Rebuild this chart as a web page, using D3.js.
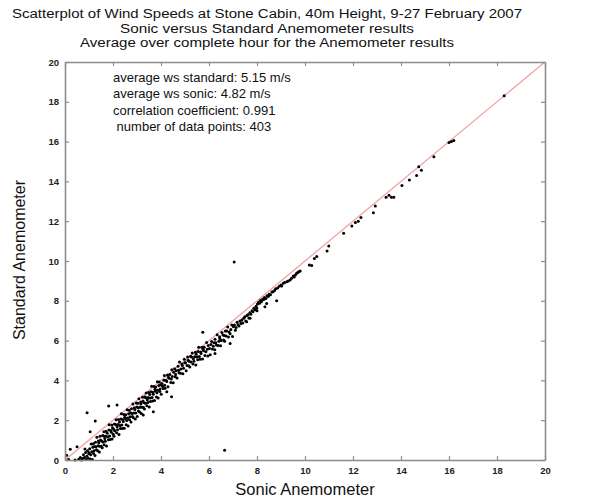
<!DOCTYPE html>
<html><head><meta charset="utf-8">
<script src="https://cdn.jsdelivr.net/npm/d3@7"></script>
<style>
body{margin:0;background:#fff;}
svg{display:block;font-family:"Liberation Sans",Arial,sans-serif;}
</style></head>
<body><svg id="c" width="598" height="500"></svg>
<script>
const titleLines = [
  "Scatterplot of Wind Speeds at Stone Cabin, 40m Height, 9-27 February 2007",
  "Sonic versus Standard Anemometer results",
  "Average over complete hour for the Anemometer results"
];
const titleWidths = [510, 294, 374];
const statLines = [
  "average ws standard: 5.15 m/s",
  "average ws sonic: 4.82 m/s",
  "correlation coefficient: 0.991",
  " number of data points: 403"
];
const xLabel = "Sonic Anemometer";
const yLabel = "Standard Anemometer";
const tickValues = [0,2,4,6,8,10,12,14,16,18,20];
const refLine = [[0,0],[20,20]];

// [sonic, standard] pairs
const band0to2 = [
 [0.07,0.24],[0.15,0.02],[0.22,0.54],[0.5,0.67],[0.42,0.0],[0.57,0.04],[0.64,0.12],[0.69,0.0],[0.74,0.07],[0.77,0.27],
 [0.81,0.13],[0.86,0.38],[0.88,0.02],[0.91,0.19],[0.94,0.47],[0.96,0.09],[0.99,0.31],[0.83,0.55],
 [1.01,0.36],[1.03,0.56],[1.05,0.05],[1.07,0.26],[1.09,0.81],[1.12,0.41],[1.14,0.02],[1.16,0.64],[1.18,0.82],[1.19,0.33],
 [1.21,0.47],[1.23,0.68],[1.25,0.22],[1.27,0.89],[1.29,0.66],[1.31,0.51],[1.33,1.14],[1.36,0.46],[1.38,0.71],[1.39,0.96],
 [1.41,0.87],[1.43,0.40],[1.44,0.69],[1.46,1.19],[1.48,1.00],[1.51,0.69],[1.53,0.96],[1.55,0.61],[1.57,1.23],[1.58,0.90],
 [1.61,1.20],[1.62,1.42],[1.63,0.77],[1.66,1.08],[1.68,0.94],[1.69,1.19],[1.71,1.44],[1.73,0.70],[1.76,1.34],[1.78,1.17],
 [1.81,1.02],[1.83,1.51],[1.84,1.77],[1.86,1.20],[1.88,1.03],[1.91,1.48],[1.93,1.40],[1.95,1.76],[1.96,1.05],[1.98,1.62],
 [0.92,2.38],[1.26,1.96],[1.05,1.42],[1.82,2.71]
];
const band2to4 = [
 [2.01,1.29],[2.03,1.55],[2.04,1.19],[2.06,1.81],[2.07,1.47],[2.11,1.79],[2.13,2.02],[2.15,1.37],[2.17,1.67],[2.19,1.52],
 [2.21,1.78],[2.23,2.03],[2.25,1.28],[2.27,1.91],[2.29,1.73],[2.31,1.58],[2.33,2.06],[2.35,2.33],[2.37,1.76],[2.39,1.58],
 [2.41,2.02],[2.43,1.93],[2.45,2.29],[2.47,1.59],[2.49,2.15],[2.51,2.09],[2.53,2.28],[2.55,1.77],[2.57,1.98],[2.59,2.52],
 [2.61,2.11],[2.63,1.71],[2.65,2.33],[2.67,2.50],[2.69,2.02],[2.71,2.17],[2.73,2.37],[2.75,1.91],[2.77,2.58],[2.79,2.34],
 [2.81,2.19],[2.83,2.81],[2.85,2.12],[2.87,2.36],[2.89,2.62],[2.91,2.54],[2.93,2.06],[2.95,2.36],[2.97,2.86],[2.99,2.66],
 [2.17,2.76],
 [3.01,2.18],[3.03,2.85],[3.05,2.62],[3.06,2.46],[3.08,3.08],[3.11,2.41],[3.13,2.65],[3.15,2.91],[3.16,2.81],[3.18,2.34],
 [3.21,2.65],[3.23,3.15],[3.25,2.96],[3.27,2.64],[3.28,2.89],[3.31,2.56],[3.33,3.18],[3.35,2.85],[3.36,3.13],[3.38,3.37],
 [3.41,2.73],[3.43,3.03],[3.45,2.89],[3.46,3.14],[3.48,3.39],[3.51,2.66],[3.53,3.29],[3.55,3.11],[3.56,2.94],[3.58,3.43],
 [3.61,3.71],[3.63,3.14],[3.65,2.97],[3.66,3.40],[3.68,3.31],[3.71,3.69],[3.73,2.99],[3.75,3.55],[3.76,3.47],[3.78,3.67],
 [3.81,3.17],[3.83,3.38],[3.85,3.93],[3.86,3.51],[3.88,3.11],[3.91,3.75],[3.93,3.92],[3.95,3.44],[3.96,3.57],[3.98,3.78],
 [3.26,2.26],[3.68,2.43]
];
const band4to6 = [
 [4.01,3.30],[4.04,3.85],[4.06,3.71],[4.09,3.59],[4.12,4.01],[4.14,4.24],[4.15,3.76],[4.17,3.61],[4.21,4.01],[4.24,3.94],
 [4.27,4.27],[4.29,3.68],[4.31,4.16],[4.34,4.11],[4.37,4.30],[4.41,3.89],[4.43,4.07],[4.45,4.54],[4.47,4.19],[4.51,3.88],
 [4.53,4.41],[4.57,4.59],[4.59,4.18],[4.61,4.30],[4.63,4.48],[4.67,4.12],[4.71,4.71],[4.73,4.51],[4.75,4.39],[4.77,4.92],
 [4.81,4.36],[4.83,4.57],[4.87,4.82],[4.89,4.75],[4.91,4.34],[4.94,4.61],[4.97,5.06],[4.99,4.89],
 [4.24,3.43],[4.44,3.18],
 [5.02,4.89],[5.05,4.48],[5.08,4.75],[5.11,5.18],[5.13,5.01],[5.15,4.74],[5.17,4.96],[5.2,4.67],[5.23,5.21],[5.25,4.92],
 [5.27,5.17],[5.3,5.38],[5.33,4.83],[5.35,5.09],[5.37,4.96],[5.4,5.19],[5.43,5.42],[5.45,4.77],[5.47,5.31],[5.5,5.17],
 [5.53,5.04],[5.55,5.45],[5.57,5.67],[5.6,5.20],[5.63,5.06],[5.65,5.43],[5.67,5.35],[5.7,5.67],[5.73,5.08],[5.75,5.56],
 [5.77,5.49],[5.8,5.67],[5.83,5.25],[5.87,5.44],[5.9,5.91],[5.93,5.56],[5.95,5.23],[5.97,5.75],
 [5.74,6.42]
];
const band6to9 = [
 [6.02,5.60],[6.05,5.29],[6.08,5.80],[6.11,5.95],[6.14,5.58],[6.18,5.72],[6.21,5.89],[6.24,5.54],[6.25,6.07],[6.28,5.89],
 [6.31,5.78],[6.34,6.29],[6.38,5.76],[6.41,5.97],[6.44,6.19],[6.45,6.11],[6.48,5.74],[6.51,6.00],[6.54,6.41],[6.58,6.28],
 [6.61,6.03],[6.64,6.26],[6.65,5.97],[6.68,6.48],[6.71,6.23],[6.74,6.48],[6.78,6.68],[6.81,6.18],[6.84,6.43],[6.88,6.34],
 [6.91,6.56],[6.95,6.78],[6.98,6.20],[6.88,5.86],[6.25,5.35],
 [7.02,6.70],[7.06,6.78],[7.1,6.52],[7.13,6.66],[7.17,6.92],[7.21,6.80],[7.25,6.73],[7.29,6.98],[7.33,6.86],[7.37,7.04],
 [7.41,6.88],[7.45,7.12],[7.49,7.20],[7.53,6.99],[7.58,7.26],[7.62,7.30],[7.66,7.13],[7.7,7.40],[7.74,7.32],[7.79,7.50],
 [7.83,7.45],[7.87,7.62],[7.92,7.55],[7.96,7.72],[7.57,6.95],[7.71,7.12],[7.99,7.62],
 [8.02,7.84],[8.06,7.91],[8.11,7.88],[8.14,8.01],[8.19,7.97],[8.23,8.08],[8.28,8.06],[8.31,8.17],[8.37,8.12],[8.42,8.26],
 [8.47,8.22],[8.51,8.33],[8.56,8.31],[8.62,8.44],[8.67,8.45],[8.73,8.52],[8.78,8.60],[8.86,8.64],[8.93,8.73],
 [8.33,7.7],[8.4,7.87],[8.82,8.0],[8.0,7.5]
];
const band9up = [
 [9.0,8.8],[9.03,8.74],[9.1,8.88],[9.15,8.92],[9.24,8.96],[9.3,9.0],[9.38,9.05],[9.44,9.13],[9.51,9.25],[9.55,9.2],
 [9.6,9.3],[9.65,9.38],[9.7,9.42],[9.74,9.46],[9.8,9.5],
 [10.18,9.8],[10.28,9.77],[10.39,10.12],[10.49,10.22],[10.92,10.5],[10.99,10.75],[11.61,11.39],[11.95,11.76],
 [12.1,11.93],[12.22,12.0],[12.33,12.18],[12.85,12.43],[12.93,12.76],[13.38,13.2],[13.5,13.3],[13.6,13.2],[13.7,13.2],
 [14.04,13.79],[14.35,14.07],[14.65,14.3],[14.74,14.74],[14.85,14.56],[15.37,15.24],[16.0,15.95],[16.1,16.0],[16.2,16.05],
 [18.3,18.3]
];
const outliers = [[6.65,0.49],[7.05,9.95]];

const points = [].concat(band0to2, band2to4, band4to6, band6to9, band9up, outliers);

const svg = d3.select("#c");
const x = d3.scaleLinear().domain([0,20]).range([65,545]);
const y = d3.scaleLinear().domain([0,20]).range([460,62]);
const axisColor = "#8c8c8c";

// titles
svg.append("g").selectAll("text").data(titleLines).join("text")
  .attr("x", 267).attr("y", (d,i)=>18 + i*14.6)
  .attr("text-anchor","middle").attr("font-size","12.5px").attr("fill","#111")
  .attr("textLength",(d,i)=>titleWidths[i]).attr("lengthAdjust","spacingAndGlyphs")
  .text(d=>d);

// reference line
svg.append("line")
  .attr("x1", x(refLine[0][0])).attr("y1", y(refLine[0][1]))
  .attr("x2", x(refLine[1][0])).attr("y2", y(refLine[1][1]))
  .attr("stroke","#f4a0a0").attr("stroke-width",1.3);

// points
svg.append("g").selectAll("circle").data(points).join("circle")
  .attr("cx", d=>x(d[0])).attr("cy", d=>y(d[1])).attr("r",1.5).attr("fill","#000");

function styleAxis(g){
  g.select(".domain").attr("stroke",axisColor).attr("stroke-width",1.6);
  g.selectAll(".tick line").attr("stroke",axisColor).attr("stroke-width",1.2);
  g.selectAll(".tick text").attr("fill","#222").attr("font-size","9.5px").attr("font-weight","bold");
}
svg.append("g").attr("transform","translate(0,460)")
  .call(d3.axisBottom(x).tickValues(tickValues).tickSizeInner(-4).tickSizeOuter(0).tickPadding(7))
  .call(styleAxis).attr("font-family",null);
svg.append("g").attr("transform","translate(65,0)")
  .call(d3.axisLeft(y).tickValues(tickValues).tickSizeInner(-4).tickSizeOuter(0).tickPadding(6))
  .call(styleAxis).attr("font-family",null);
svg.append("g").attr("transform","translate(0,62)")
  .call(d3.axisTop(x).tickValues(tickValues).tickSizeInner(-4).tickSizeOuter(0).tickFormat(""))
  .call(styleAxis);
svg.append("g").attr("transform","translate(545,0)")
  .call(d3.axisRight(y).tickValues(tickValues).tickSizeInner(-4).tickSizeOuter(0).tickFormat(""))
  .call(styleAxis);

// stats annotation
svg.append("g").selectAll("text").data(statLines).join("text")
  .attr("x", 113).attr("y",(d,i)=>82 + i*16.3)
  .attr("font-size","13px").attr("fill","#111")
  .style("white-space","pre")
  .text(d=>d);

// axis labels
svg.append("text").attr("x",305).attr("y",495).attr("text-anchor","middle")
  .attr("font-size","16.5px").attr("fill","#111").text(xLabel);
svg.append("text").attr("transform","translate(25,260) rotate(-90)").attr("text-anchor","middle")
  .attr("font-size","16px").attr("fill","#111").text(yLabel);
</script>
</body></html>
